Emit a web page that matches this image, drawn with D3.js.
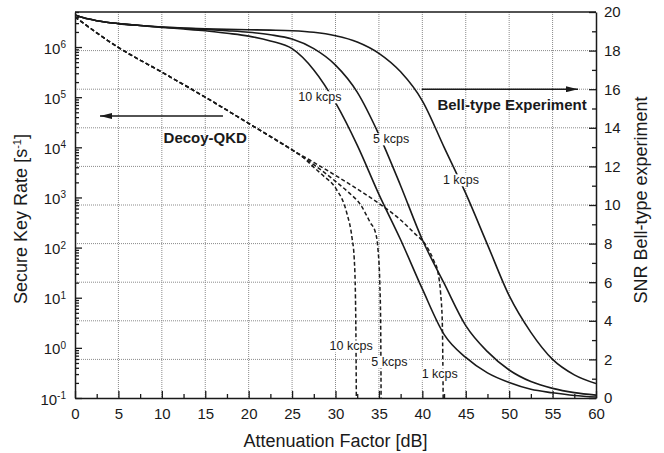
<!DOCTYPE html>
<html>
<head>
<meta charset="utf-8">
<script src="https://cdn.jsdelivr.net/npm/d3@7"></script>
<style>
  body { margin: 0; background: #fff; }
  svg { display: block; font-family: "Liberation Sans", Arial, sans-serif; }
</style>
</head>
<body>
<div id="chart"></div>
<script>
// SNR of the Bell-type experiment (right axis), sampled on snrDb
const snrDb = [0, 1, 2.5, 5, 7.5, 10, 12.5, 15, 17.5, 20, 22.5, 25, 27.5, 30, 32.5, 35, 37.5, 40, 42.5, 45, 47.5, 50, 52.5, 55, 57.5, 60];
const snr1kcps = [19.85, 19.7, 19.55, 19.4, 19.3, 19.22, 19.17, 19.13, 19.1, 19.08, 19.06, 19.03, 18.95, 18.77, 18.45, 17.86, 16.9, 15.4, 13.0, 10.6, 7.95, 5.3, 3.4, 2.0, 1.2, 0.75];
const snr5kcps = [19.85, 19.7, 19.55, 19.4, 19.3, 19.22, 19.16, 19.1, 19.03, 18.95, 18.82, 18.6, 18.1, 17.25, 15.85, 13.65, 11.0, 8.2, 5.95, 3.75, 2.4, 1.45, 0.85, 0.5, 0.28, 0.15];
const snr10kcps = [19.85, 19.7, 19.55, 19.4, 19.3, 19.2, 19.12, 19.03, 18.9, 18.75, 18.5, 18.1, 17.0, 15.3, 13.1, 10.55, 8.2, 5.65, 3.3, 2.1, 1.3, 0.8, 0.45, 0.27, 0.13, 0.05];

// Decoy-QKD secure key rate (left axis), shared part then one tail per rate
const decoySharedDb = [0, 5, 10, 15, 20, 25];
const decoySharedRate = [3.98e6, 9.8e5, 3.16e5, 1.0e5, 3.0e4, 8.9e3];
const decoy1Db = [27.5, 30, 32.5, 35, 37.5, 39, 40.4, 41.3, 41.8, 42.1, 42.3, 42.4];
const decoy1Rate = [5.0e3, 2.75e3, 1.48e3, 760, 355, 200, 112, 56, 32, 12.6, 3.2, 0.1];
const decoy5Db = [27.5, 30, 31.5, 32.9, 34, 34.6, 34.9, 35.1, 35.2, 35.25];
const decoy5Rate = [4.5e3, 2.1e3, 1.26e3, 710, 316, 200, 89, 20, 3.2, 0.1];
const decoy10Db = [26, 27.5, 28.6, 30, 31.3, 31.9, 32.15, 32.3, 32.35, 32.4];
const decoy10Rate = [6.9e3, 4.0e3, 2.7e3, 1.55e3, 490, 158, 63, 10, 2, 0.1];

// ticks
const xTicks = [0, 5, 10, 15, 20, 25, 30, 35, 40, 45, 50, 55, 60];
const xMinorTicks = [2.5, 7.5, 12.5, 17.5, 22.5, 27.5, 32.5, 37.5, 42.5, 47.5, 52.5, 57.5];
const rateExponents = [-1, 0, 1, 2, 3, 4, 5, 6];
const snrTicks = [0, 2, 4, 6, 8, 10, 12, 14, 16, 18, 20];
const snrMinorTicks = [1, 3, 5, 7, 9, 11, 13, 15, 17, 19];

// curve labels: [text, dB, SNR]
const curveLabels = [
  ["10 kcps", 28.2, 15.6],
  ["5 kcps", 36.4, 13.42],
  ["1 kcps", 44.45, 11.3],
  ["10 kcps", 31.8, 2.69],
  ["5 kcps", 36.2, 1.87],
  ["1 kcps", 42.0, 1.24],
];

const dimensions = {
  width: 664,
  height: 453,
  margin: { top: 12, right: 68, bottom: 55, left: 75 },
};
dimensions.boundedWidth = dimensions.width - dimensions.margin.left - dimensions.margin.right;
dimensions.boundedHeight = dimensions.height - dimensions.margin.top - dimensions.margin.bottom;

const ink = "#1a1a1a";

const svg = d3.select("#chart")
  .append("svg")
  .attr("width", dimensions.width)
  .attr("height", dimensions.height);

const defs = svg.append("defs");
defs.append("clipPath").attr("id", "plot")
  .append("rect")
  .attr("width", dimensions.boundedWidth)
  .attr("height", dimensions.boundedHeight);
defs.append("marker")
  .attr("id", "head")
  .attr("markerUnits", "userSpaceOnUse")
  .attr("viewBox", "0 0 12 6")
  .attr("refX", 12).attr("refY", 3)
  .attr("markerWidth", 12).attr("markerHeight", 6)
  .attr("orient", "auto")
  .append("path").attr("d", "M0,0L12,3L0,6Z").attr("fill", ink);

const bounds = svg.append("g")
  .attr("transform", `translate(${dimensions.margin.left},${dimensions.margin.top})`);

const xScale = d3.scaleLinear().domain([0, 60]).range([0, dimensions.boundedWidth]);
const yRate = d3.scaleLog().domain([0.1, 5e6]).range([dimensions.boundedHeight, 0]);
const ySnr = d3.scaleLinear().domain([0, 20]).range([dimensions.boundedHeight, 0]);

// dotted grid
const grid = bounds.append("g")
  .attr("stroke", "#8a8a8a")
  .attr("stroke-width", 1)
  .attr("stroke-dasharray", "1,1");
grid.selectAll(".gx").data(xTicks.slice(1, -1)).join("line")
  .attr("x1", (d) => xScale(d)).attr("x2", (d) => xScale(d))
  .attr("y1", 0).attr("y2", dimensions.boundedHeight);
grid.selectAll(".gy").data(snrTicks.slice(1, -1)).join("line")
  .attr("y1", (d) => ySnr(d)).attr("y2", (d) => ySnr(d))
  .attr("x1", 0).attr("x2", dimensions.boundedWidth);

// curves
const plot = bounds.append("g").attr("clip-path", "url(#plot)");

const snrLine = d3.line()
  .x((d) => xScale(d[0]))
  .y((d) => ySnr(d[1]))
  .curve(d3.curveMonotoneX);
[snr1kcps, snr5kcps, snr10kcps].forEach((series) => {
  plot.append("path")
    .attr("d", snrLine(snrDb.map((db, i) => [db, series[i]])))
    .attr("fill", "none")
    .attr("stroke", ink)
    .attr("stroke-width", 1.6);
});

const rateLine = d3.line()
  .x((d) => xScale(d[0]))
  .y((d) => yRate(d[1]))
  .curve(d3.curveMonotoneX);
const shared = decoySharedDb.map((db, i) => [db, decoySharedRate[i]]);
[[decoy1Db, decoy1Rate], [decoy5Db, decoy5Rate], [decoy10Db, decoy10Rate]].forEach(([dbs, rates]) => {
  plot.append("path")
    .attr("d", rateLine(shared.concat(dbs.map((db, i) => [db, rates[i]]))))
    .attr("fill", "none")
    .attr("stroke", ink)
    .attr("stroke-width", 1.5)
    .attr("stroke-dasharray", "4,2.5");
});

// curve labels with white backing
curveLabels.forEach(([text, db, snr]) => {
  const g = bounds.append("g");
  const t = g.append("text")
    .attr("x", xScale(db))
    .attr("y", ySnr(snr))
    .attr("dy", "0.35em")
    .attr("text-anchor", "middle")
    .attr("font-size", 12.5)
    .attr("fill", ink)
    .text(text);
  const bb = t.node().getBBox();
  g.insert("rect", "text")
    .attr("x", bb.x - 1).attr("y", bb.y + 1)
    .attr("width", bb.width + 2).attr("height", bb.height - 2)
    .attr("fill", "#fff");
});

// arrows and experiment names
bounds.append("line")
  .attr("x1", xScale(17.04)).attr("x2", xScale(2.88))
  .attr("y1", ySnr(14.61)).attr("y2", ySnr(14.61))
  .attr("stroke", ink).attr("stroke-width", 1.6)
  .attr("marker-end", "url(#head)");
bounds.append("line")
  .attr("x1", xScale(39.96)).attr("x2", xScale(57.93))
  .attr("y1", ySnr(16)).attr("y2", ySnr(16))
  .attr("stroke", ink).attr("stroke-width", 1.6)
  .attr("marker-end", "url(#head)");
bounds.append("text")
  .attr("x", xScale(15)).attr("y", ySnr(13.21))
  .attr("text-anchor", "middle")
  .attr("font-size", 15).attr("font-weight", "bold").attr("fill", ink)
  .text("Decoy-QKD");
bounds.append("text")
  .attr("x", xScale(50.33)).attr("y", ySnr(14.92))
  .attr("text-anchor", "middle")
  .attr("font-size", 15).attr("font-weight", "bold").attr("fill", ink)
  .text("Bell-type Experiment");

// axes
const styleAxis = (g) => {
  g.select(".domain").attr("stroke", ink).attr("stroke-width", 1.5);
  g.selectAll(".tick line").attr("stroke", ink).attr("stroke-width", 1.3);
  g.selectAll(".tick text").attr("font-size", 15).attr("fill", ink);
  g.attr("font-family", null);
};

bounds.append("g")
  .attr("transform", `translate(0,${dimensions.boundedHeight})`)
  .call(d3.axisBottom(xScale).tickValues(xTicks).tickSizeInner(-7).tickSizeOuter(0).tickPadding(10))
  .call(styleAxis);
bounds.append("g")
  .attr("transform", `translate(0,${dimensions.boundedHeight})`)
  .call(d3.axisBottom(xScale).tickValues(xMinorTicks).tickSize(-4).tickFormat(""))
  .call(styleAxis)
  .call((g) => g.select(".domain").remove());

const decades = rateExponents.map((e) => Math.pow(10, e));
const rateMinor = [];
rateExponents.forEach((e) => {
  d3.range(2, 10).forEach((m) => {
    const v = m * Math.pow(10, e);
    if (v <= 5e6) rateMinor.push(v);
  });
});

const yAxisLeft = bounds.append("g")
  .call(d3.axisLeft(yRate).tickValues(decades).tickSizeInner(-7).tickSizeOuter(0).tickPadding(9).tickFormat(""))
  .call(styleAxis);
yAxisLeft.selectAll(".tick text").each(function (d, i) {
  const t = d3.select(this).attr("dy", "0.4em");
  t.append("tspan").text("10");
  t.append("tspan").attr("dy", "-0.55em").attr("font-size", 10).text(rateExponents[i]);
});
bounds.append("g")
  .call(d3.axisLeft(yRate).tickValues(rateMinor).tickSize(-4).tickFormat(""))
  .call(styleAxis)
  .call((g) => g.select(".domain").remove());

bounds.append("g")
  .attr("transform", `translate(${dimensions.boundedWidth},0)`)
  .call(d3.axisRight(ySnr).tickValues(snrTicks).tickSizeInner(-7).tickSizeOuter(0).tickPadding(8))
  .call(styleAxis);
bounds.append("g")
  .attr("transform", `translate(${dimensions.boundedWidth},0)`)
  .call(d3.axisRight(ySnr).tickValues(snrMinorTicks).tickSize(-4).tickFormat(""))
  .call(styleAxis)
  .call((g) => g.select(".domain").remove());

// top frame
bounds.append("line")
  .attr("x1", 0).attr("x2", dimensions.boundedWidth)
  .attr("y1", 0).attr("y2", 0)
  .attr("stroke", ink).attr("stroke-width", 1.5);

// axis titles
svg.append("text")
  .attr("x", dimensions.margin.left + dimensions.boundedWidth / 2)
  .attr("y", 447)
  .attr("text-anchor", "middle")
  .attr("font-size", 18).attr("fill", ink)
  .text("Attenuation Factor [dB]");

const leftTitle = svg.append("text")
  .attr("transform", "translate(27,219) rotate(-90)")
  .attr("text-anchor", "middle")
  .attr("font-size", 18).attr("fill", ink);
leftTitle.append("tspan").text("Secure Key Rate [s");
leftTitle.append("tspan").attr("dy", "-0.55em").attr("font-size", 11).text("-1");
leftTitle.append("tspan").attr("dy", "0.34em").text("]");

svg.append("text")
  .attr("transform", "translate(647,200) rotate(-90)")
  .attr("text-anchor", "middle")
  .attr("font-size", 18).attr("fill", ink)
  .text("SNR Bell-type experiment");
</script>
</body>
</html>
